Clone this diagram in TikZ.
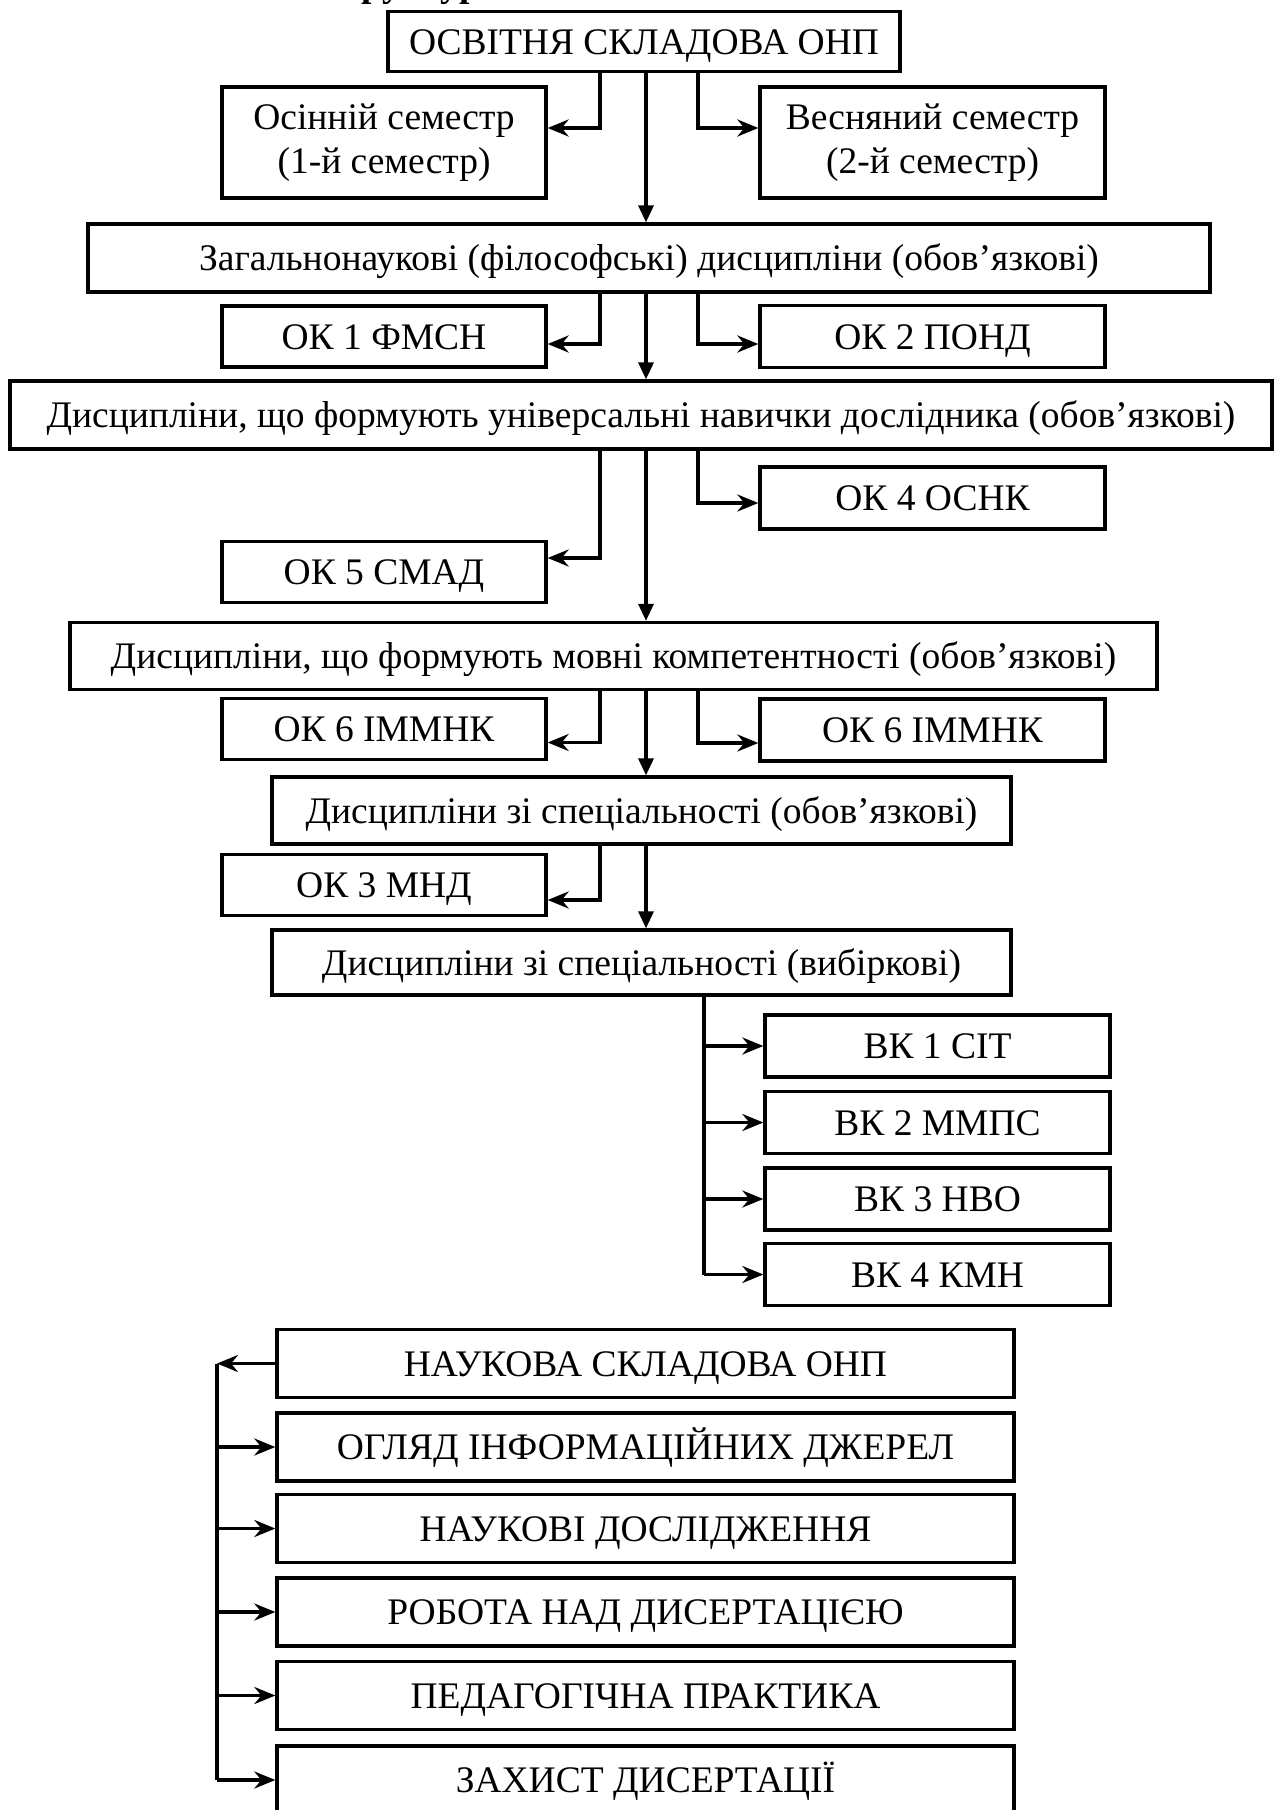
\documentclass[tikz,border=0pt]{standalone}
\usepackage{fontspec}
\setmainfont{Liberation Serif}
\usetikzlibrary{arrows.meta,calc}

\begin{document}
\begin{tikzpicture}[x=1pt,y=1pt]

\tikzset{line/.style={draw,line width=3.3pt}}
\tikzset{arrow/.style={line,-{Stealth[length=21pt,width=17pt,inset=7pt]}}}
\tikzset{down/.style={line,-{Triangle[length=17pt,width=15pt]}}}
\tikzset{box/.style={rectangle,inner sep=0pt,align=center,font=\fontsize{37.5}{44}\selectfont}}
\tikzset{mid/.style={box,text height=25pt,text depth=0pt}}
\tikzset{lbox/.style={mid,minimum width=324pt,minimum height=61pt}}
\tikzset{rbox/.style={mid,minimum width=345pt,minimum height=62pt}}
\tikzset{nbox/.style={mid,minimum width=737pt,minimum height=68pt}}

\useasboundingbox (0,0) rectangle (1280,-1810);

\node[anchor=base west,font=\bfseries\fontsize{37.5}{44}\selectfont] (head) at (313,4) {Структура};

\node[line,mid,minimum width=512pt,minimum height=60pt] (osv) at (644,-41.5) {ОСВІТНЯ СКЛАДОВА ОНП};
\node[line,box,minimum width=324pt,minimum height=111pt] (osin) at (384,-142.5) {Осінній семестр\\(1-й семестр)};
\node[line,box,minimum width=345pt,minimum height=111pt] (vesn) at (932.5,-142.5) {Весняний семестр\\(2-й семестр)};
\node[line,mid,minimum width=1122pt,minimum height=68pt] (zag) at (649,-258) {Загальнонаукові (філософські) дисципліни (обов’язкові)};
\node[line,lbox] (ok1) at (384,-336.5) {ОК 1 ФМСН};
\node[line,rbox] (ok2) at (932.5,-336.5) {ОК 2 ПОНД};
\node[line,mid,minimum width=1262pt,minimum height=68pt] (univ) at (641,-415) {Дисципліни, що формують універсальні навички дослідника (обов’язкові)};
\node[line,rbox] (ok4) at (932.5,-498) {ОК 4 ОСНК};
\node[line,lbox] (ok5) at (384,-572) {ОК 5 СМАД};
\node[line,mid,minimum width=1087pt,minimum height=67pt] (movn) at (613.5,-656) {Дисципліни, що формують мовні компетентності (обов’язкові)};
\node[line,lbox] (ok6a) at (384,-729) {ОК 6 ІММНК};
\node[line,rbox] (ok6b) at (932.5,-730) {ОК 6 ІММНК};
\node[line,mid,minimum width=739pt,minimum height=67pt] (spob) at (641.5,-810.5) {Дисципліни зі спеціальності (обов’язкові)};
\node[line,lbox] (ok3) at (384,-885) {ОК 3 МНД};
\node[line,mid,minimum width=739pt,minimum height=65pt] (spvb) at (641.5,-962.5) {Дисципліни зі спеціальності (вибіркові)};

\node[line,rbox] (vk1) at (937.5,-1046) {ВК 1 СІТ};
\node[line,rbox] (vk2) at (937.5,-1122.5) {ВК 2 ММПС};
\node[line,rbox] (vk3) at (937.5,-1199) {ВК 3 НВО};
\node[line,rbox] (vk4) at (937.5,-1274.5) {ВК 4 КМН};

\node[line,nbox] (nauk) at (645.5,-1363.5) {НАУКОВА СКЛАДОВА ОНП};
\node[line,nbox] (ogl) at (645.5,-1447) {ОГЛЯД ІНФОРМАЦІЙНИХ ДЖЕРЕЛ};
\node[line,nbox] (dosl) at (645.5,-1528.5) {НАУКОВІ ДОСЛІДЖЕННЯ};
\node[line,nbox] (rob) at (645.5,-1612) {РОБОТА НАД ДИСЕРТАЦІЄЮ};
\node[line,nbox] (ped) at (645.5,-1695.5) {ПЕДАГОГІЧНА ПРАКТИКА};
\node[line,nbox] (zakh) at (645.5,-1780) {ЗАХИСТ ДИСЕРТАЦІЇ};

\coordinate (mx) at (646,0);
\coordinate (lx) at (600,0);
\coordinate (rx) at (698,0);
\coordinate (vx) at (704,0);
\coordinate (bx) at (217,0);

% osvitnia skladova
\path[arrow] (osv.south -| lx) |- ($(osin.east)+(0,14.5)$);
\path[arrow] (osv.south -| rx) |- ($(vesn.west)+(0,14.5)$);
\path[down] (osv.south -| mx) -- (zag.north -| mx);

% zagalnonaukovi
\path[arrow] (zag.south -| lx) |- ($(ok1.east)+(0,-7.5)$);
\path[arrow] (zag.south -| rx) |- ($(ok2.west)+(0,-7.5)$);
\path[down] (zag.south -| mx) -- (univ.north -| mx);

% universalni navychky
\path[arrow] (univ.south -| rx) |- ($(ok4.west)+(0,-5)$);
\path[arrow] (univ.south -| lx) |- ($(ok5.east)+(0,14)$);
\path[down] (univ.south -| mx) -- (movn.north -| mx);

% movni kompetentnosti
\path[arrow] (movn.south -| lx) |- ($(ok6a.east)+(0,-13.5)$);
\path[arrow] (movn.south -| rx) |- ($(ok6b.west)+(0,-13)$);
\path[down] (movn.south -| mx) -- (spob.north -| mx);

% specialnist
\path[arrow] (spob.south -| lx) |- ($(ok3.east)+(0,-15)$);
\path[down] (spob.south -| mx) -- (spvb.north -| mx);

% vybirkovi
\path[line] (spvb.south -| vx) -- (vx |- vk4.west);
\path[arrow] (vx |- vk1.west) -- (vk1.west);
\path[arrow] (vx |- vk2.west) -- (vk2.west);
\path[arrow] (vx |- vk3.west) -- (vk3.west);
\path[arrow] (vx |- vk4.west) -- (vk4.west);

% naukova skladova
\path[line] (bx |- nauk.west) -- (bx |- zakh.west);
\path[arrow] (nauk.west) -- (bx |- nauk.west);
\path[arrow] (bx |- ogl.west) -- (ogl.west);
\path[arrow] (bx |- dosl.west) -- (dosl.west);
\path[arrow] (bx |- rob.west) -- (rob.west);
\path[arrow] (bx |- ped.west) -- (ped.west);
\path[arrow] (bx |- zakh.west) -- (zakh.west);

\end{tikzpicture}
\end{document}
